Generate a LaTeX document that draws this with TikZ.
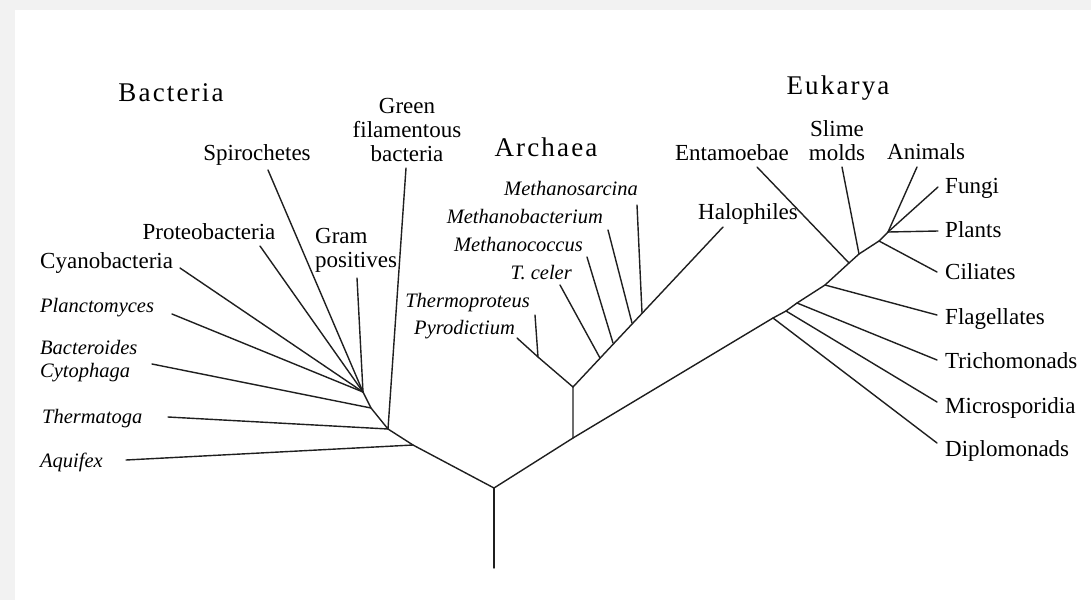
\documentclass[tikz,border=0pt]{standalone}
\usepackage{fontspec}
\setmainfont{Liberation Serif}
\begin{document}
\begin{tikzpicture}[x=1pt,y=-1pt]

% --- Stijldefinities ---
\tikzset{
    taxon/.style={
        font=\fontsize{23}{24}\selectfont,
        inner sep=0pt
    },
    taxonit/.style={
        taxon,
        font=\fontsize{20.5}{23}\selectfont\itshape
    },
    domein/.style={
        font=\fontsize{27}{30}\selectfont\addfontfeature{LetterSpace=8},
        inner sep=0pt
    },
    tak/.style={
        line width=1.4pt,
        draw=black!88,
        line cap=round,
        line join=round
    }
}

% --- Achtergrond (schaduwrand) ---
\fill[black!5] (0,0) rectangle (1091,600);
\fill[white] (15,10) rectangle (1091,600);
\useasboundingbox (0,0) rectangle (1091,600);

% --- Knooppunten in de boom ---
\coordinate (wortel) at (494,568);
\coordinate (r) at (494,488);

% Bacteria
\coordinate (b1) at (413,445);
\coordinate (b2) at (388,429);
\coordinate (b3) at (371,408);
\coordinate (b4) at (363,392);

% Archaea
\coordinate (a0) at (573,438);
\coordinate (a1) at (573,387);
\coordinate (a2) at (538,357);
\coordinate (a3) at (600,358);
\coordinate (a4) at (613,343);
\coordinate (a5) at (632,323);
\coordinate (a6) at (642,313);

% Eukarya
\coordinate (e1) at (773,318);
\coordinate (e2) at (786,311);
\coordinate (e3) at (797,303);
\coordinate (e4) at (825,285);
\coordinate (e5) at (849,263);
\coordinate (e6) at (859,254);
\coordinate (e7) at (879,241);
\coordinate (e8) at (888,232);

% --- Uiteinden van de takken ---
\coordinate (t-aqui) at (126,460);
\coordinate (t-therm) at (168,417);
\coordinate (t-bact) at (152,364);
\coordinate (t-planc) at (172,314);
\coordinate (t-cyano) at (180,268);
\coordinate (t-proteo) at (260,246);
\coordinate (t-spiro) at (268,170);
\coordinate (t-gram) at (357,278);
\coordinate (t-green) at (406,168);

\coordinate (t-pyro) at (517,338);
\coordinate (t-thermo) at (535,315);
\coordinate (t-celer) at (560,285);
\coordinate (t-mcocc) at (587,257);
\coordinate (t-mbact) at (608,230);
\coordinate (t-msarc) at (637,205);
\coordinate (t-halo) at (723,227);

\coordinate (t-dipl) at (937,443);
\coordinate (t-micro) at (937,402);
\coordinate (t-tricho) at (937,360);
\coordinate (t-flag) at (937,315);
\coordinate (t-cil) at (937,272);
\coordinate (t-plant) at (938,231);
\coordinate (t-fungi) at (938,187);
\coordinate (t-anim) at (917,167);
\coordinate (t-slime) at (842,167);
\coordinate (t-entam) at (757,167);

% --- Labels ---
\node[domein] (bacteria) at (171,93) {Bacteria};
\node[domein] (archaea) at (546,147) {Archaea};
\node[domein] (eukarya) at (838,88) {Eukarya};

\node[taxon, align=center] (green) at (407,130) {Green\\filamentous\\bacteria};
\node[taxon] (spiro) at (257,155) {Spirochetes};
\node[taxon] (proteo) at (209,232) {Proteobacteria};
\node[taxon, align=left, anchor=west] (gram) at (315,250) {Gram\\positives};
\node[taxon, anchor=mid west] (cyano) at (40,266) {Cyanobacteria};
\node[taxonit, anchor=mid west] (planc) at (40,310) {Planctomyces};
\node[taxonit, align=left, anchor=west] (bact) at (40,361) {Bacteroides\\Cytophaga};
\node[taxonit, anchor=mid west] (therm) at (42,421) {Thermatoga};
\node[taxonit, anchor=mid west] (aqui) at (40,465) {Aquifex};

\node[taxonit, anchor=mid east] (msarc) at (638,193) {Methanosarcina};
\node[taxonit, anchor=mid east] (mbact) at (603,221) {Methanobacterium};
\node[taxonit, anchor=mid east] (mcocc) at (583,249) {Methanococcus};
\node[taxonit, anchor=mid east] (celer) at (572,277) {T. celer};
\node[taxonit, anchor=mid east] (thermo) at (530,305) {Thermoproteus};
\node[taxonit, anchor=mid east] (pyro) at (515,332) {Pyrodictium};
\node[taxon, anchor=mid west] (halo) at (698,217) {Halophiles};

\node[taxon] (entam) at (732,153) {Entamoebae};
\node[taxon, align=center] (slime) at (837,141) {Slime\\molds};
\node[taxon, anchor=mid west] (anim) at (887,157) {Animals};
\node[taxon, anchor=mid west] (fungi) at (945,191) {Fungi};
\node[taxon, anchor=mid west] (plant) at (945,235) {Plants};
\node[taxon, anchor=mid west] (cil) at (945,277) {Ciliates};
\node[taxon, anchor=mid west] (flag) at (945,322) {Flagellates};
\node[taxon, anchor=mid west] (tricho) at (945,366) {Trichomonads};
\node[taxon, anchor=mid west] (micro) at (945,411) {Microsporidia};
\node[taxon, anchor=mid west] (dipl) at (945,454) {Diplomonads};

% --- Takken ---

% Stam en Bacteria
\draw[tak] (wortel) -- (r);
\draw[tak] (r) -- (b1) -- (b2) -- (b3) -- (b4);
\draw[tak] (b1) -- (t-aqui);
\draw[tak] (b2) -- (t-therm);
\draw[tak] (b2) -- (t-green);
\draw[tak] (b3) -- (t-bact);
\draw[tak] (b4) -- (t-planc);
\draw[tak] (b4) -- (t-cyano);
\draw[tak] (b4) -- (t-proteo);
\draw[tak] (b4) -- (t-spiro);
\draw[tak] (b4) -- (t-gram);

% Archaea
\draw[tak] (r) -- (a0) -- (a1);
\draw[tak] (a1) -- (a2) -- (t-pyro);
\draw[tak] (a2) -- (t-thermo);
\draw[tak] (a1) -- (t-halo);
\draw[tak] (a3) -- (t-celer);
\draw[tak] (a4) -- (t-mcocc);
\draw[tak] (a5) -- (t-mbact);
\draw[tak] (a6) -- (t-msarc);

% Eukarya
\draw[tak] (a0) -- (e1) -- (e2) -- (e3) -- (e4) -- (e5) -- (e6) -- (e7) -- (e8);
\draw[tak] (e1) -- (t-dipl);
\draw[tak] (e2) -- (t-micro);
\draw[tak] (e3) -- (t-tricho);
\draw[tak] (e4) -- (t-flag);
\draw[tak] (e5) -- (t-entam);
\draw[tak] (e6) -- (t-slime);
\draw[tak] (e7) -- (t-cil);
\draw[tak] (e8) -- (t-plant);
\draw[tak] (e8) -- (t-fungi);
\draw[tak] (e8) -- (t-anim);

\end{tikzpicture}
\end{document}
